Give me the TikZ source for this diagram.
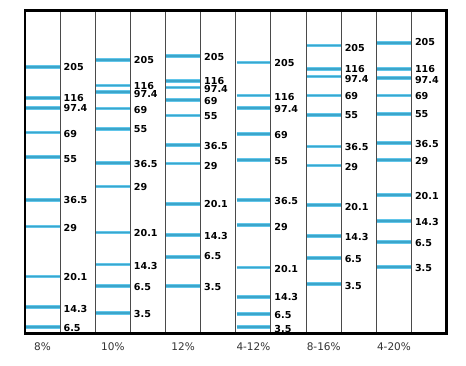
\documentclass[tikz,border=0pt]{standalone}
\usepackage{fontspec}
\setmainfont{DejaVu Sans}
\definecolor{bandout}{HTML}{62C6EA}
\definecolor{bandin}{HTML}{3CA5CA}
\definecolor{sep}{HTML}{4A4A4A}
\definecolor{lanetxt}{HTML}{333333}
\tikzset{
  bandouter/.style={draw=bandout,line width=3.6pt},
  bandinner/.style={draw=bandin,line width=1.6pt},
  mw/.style={anchor=west,inner sep=0pt,font=\fontsize{9.6}{10}\selectfont\bfseries,text=black},
  lanelabel/.style={anchor=center,inner sep=0pt,font=\fontsize{10.5}{11}\selectfont,text=lanetxt},
  sepline/.style={draw=sep,line width=1pt},
  frameline/.style={draw=black,line width=2.6pt}
}
\begin{document}
\begin{tikzpicture}[x=1pt,y=-1pt]
\useasboundingbox (0,0) rectangle (466,366);
\fill[white] (0,0) rectangle (466,366);
\def\W{35.14}
% separator lines
\foreach \k in {1,...,11}{
  \draw[sepline] ({25+\k*\W},10.5) -- ({25+\k*\W},333.5);
}
% lanes
\foreach \i/\name/\data in {
 1/8\%/{67.3/67.3/205,98.3/98/116,108/108.3/97.4,132.7/133.7/69,157.3/159/55,200/200/36.5,226.7/228.3/29,276.7/277.3/20.1,307/309.3/14.3,326.7/328/6.5},
 2/10\%/{60/60.3/205,85.7/85.6/116,92.3/93.8/97.4,108.7/109.7/69,129/129.3/55,163.3/163.7/36.5,186.7/187.3/29,232.7/232.7/20.1,264.7/266/14.3,286/287.3/6.5,312.7/313.7/3.5},
 3/12\%/{56/56.7/205,81/80.7/116,87.7/89.3/97.4,100.3/101.5/69,115.7/116.3/55,145/146/36.5,163.7/165.7/29,204/204.3/20.1,235/236/14.3,257/256.3/6.5,286/287.3/3.5},
 4/4-12\%/{62.7/63/205,95.7/96.7/116,108/109.3/97.4,134.3/135/69,160.3/160.7/55,200/201/36.5,225/226.7/29,267.7/269.3/20.1,296.7/297.3/14.3,313.7/315.3/6.5,326.7/328.7/3.5},
 5/8-16\%/{45.7/47.7/205,69/69.5/116,76.7/79.5/97.4,95.7/96.3/69,115/115.3/55,146.7/147.3/36.5,165.7/166.7/29,205/206.7/20.1,236/237/14.3,258.3/259.3/6.5,284/286/3.5},
 6/4-20\%/{43.3/42.3/205,69.3/69.5/116,78.3/80/97.4,95.7/96.3/69,114/114.3/55,143.3/144/36.5,160.3/161/29,195.3/195.7/20.1,221.3/222.3/14.3,242/243.3/6.5,267/267.7/3.5}}{
  \pgfmathsetmacro\xl{25+2*(\i-1)*\W}
  \pgfmathsetmacro\xr{\xl+\W}
  \foreach \by/\ly/\t [count=\j] in \data {
    \draw[bandouter] (\xl+0.8,\by) -- (\xr-0.5,\by);
    \draw[bandinner] (\xl+0.8,\by) -- (\xr-0.5,\by);
    \node[mw] (m\i-\j) at (\xr+3.3,\ly) {\t};
  }
  \node[lanelabel] (lane\i) at ({\xl+\W/2},347) {\name};
}
% frame
\draw[frameline] (25,10.5) rectangle (446.6,333.5);
\end{tikzpicture}
\end{document}
